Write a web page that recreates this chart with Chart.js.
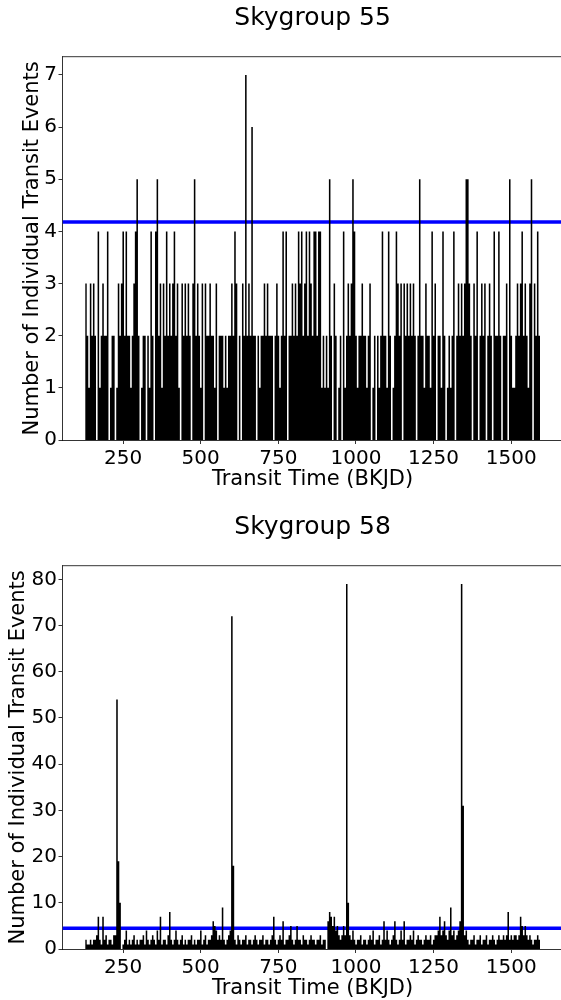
<!DOCTYPE html>
<html><head><meta charset="utf-8">
<script src="https://cdn.jsdelivr.net/npm/chart.js@4.4.0/dist/chart.umd.min.js"></script>
<style>
html,body{margin:0;padding:0;background:#fff;overflow:hidden;width:561px;height:1000px;position:relative;}
.wrap{position:absolute;left:0;width:575px;height:509px;}
#w1{top:0}
#w2{top:509px}
canvas{display:block}
</style></head><body>
<div class="wrap" id="w1"><canvas id="c1" width="575" height="509"></canvas></div>
<div class="wrap" id="w2"><canvas id="c2" width="575" height="509"></canvas></div>
<script>
const titles = ["Skygroup 55", "Skygroup 58"];
const xLabel = "Transit Time (BKJD)";
const yLabel = "Number of Individual Transit Events";
const xTicks = [250, 500, 750, 1000, 1250, 1500];
const yTicks55 = [0, 1, 2, 3, 4, 5, 6, 7];
const yTicks58 = [0, 10, 20, 30, 40, 50, 60, 70, 80];
const binStart = 128;
const binWidth = 5;
const threshold55 = 4.18;
const threshold58 = 4.48;

const counts55 = [
3,2,1,3,2,3,2,0,4,1,
2,3,2,2,4,0,1,2,2,0,
1,3,2,3,4,2,4,2,2,1,
2,3,4,5,2,0,1,2,2,0,
2,1,4,2,0,4,5,2,3,1,
3,2,4,2,3,2,3,4,2,3,
1,0,3,2,3,2,3,2,0,3,
5,2,3,2,1,3,0,3,2,2,
3,2,2,1,3,0,2,2,2,1,
2,1,2,2,3,2,4,3,0,2,
0,3,2,7,2,3,2,6,2,2,
0,2,1,2,2,3,2,3,2,2,
2,0,2,3,2,1,2,4,2,4,
0,2,2,3,2,3,2,4,3,4,
2,3,4,2,4,3,2,4,4,2,
4,4,1,2,1,2,1,5,2,0,
3,2,0,1,2,0,4,1,2,3,
2,3,5,4,2,1,2,2,3,2,
2,1,2,3,0,1,2,0,2,1,
2,4,2,2,1,4,2,0,1,2,
4,3,2,3,0,3,2,3,2,3,
2,3,2,0,2,5,2,2,1,3,
2,2,1,4,2,3,0,2,2,1,
4,2,0,1,2,1,2,4,0,2,
3,2,3,2,3,5,5,3,2,0,
3,2,4,0,2,3,2,3,0,2,
3,2,0,4,2,2,4,2,0,2,
2,3,0,5,2,1,1,2,3,2,
3,4,2,3,2,1,3,5,0,3,
2,4,2
];

const counts58 = [
2,1,1,2,1,2,2,3,7,2,
1,7,2,3,1,2,2,1,3,3,
54,19,10,0,1,2,4,1,2,1,
2,3,1,2,1,2,2,3,1,4,
2,1,2,3,2,1,4,2,7,1,
2,2,1,3,8,2,1,2,4,2,
1,2,3,1,2,1,2,2,3,1,
2,1,2,2,4,1,2,3,1,2,
2,3,6,5,4,2,3,2,9,2,
1,2,3,4,72,18,2,1,3,2,
1,2,2,3,1,2,2,1,2,3,
2,1,2,2,3,1,2,2,1,2,
3,7,2,1,2,3,2,6,1,2,
2,3,5,2,1,2,5,2,2,1,
3,2,2,1,2,3,2,2,1,2,
2,3,1,2,2,0,6,8,7,5,
7,4,5,3,2,3,5,3,79,10,
3,2,4,2,1,2,2,3,1,2,
2,1,2,3,2,4,1,2,2,3,
1,2,6,2,4,2,1,2,3,6,
2,1,2,4,2,6,1,2,2,3,
2,4,1,2,3,2,2,1,2,3,
2,2,3,1,2,3,3,4,7,3,
4,6,3,2,4,9,3,4,2,3,
4,6,79,31,3,4,2,1,2,2,
3,1,2,2,3,1,2,2,3,1,
2,2,3,2,1,2,3,2,2,3,
2,3,8,2,3,2,3,3,2,3,
7,5,3,5,3,2,3,2,1,2,
2,3,2
];

const FONT = "'DejaVu Sans', sans-serif";

const frame = {
  id: 'frame',
  afterDatasetsDraw(chart) {
    const a = chart.chartArea, ctx = chart.ctx;
    ctx.save();
    ctx.strokeStyle = '#000';
    ctx.lineWidth = 0.8;
    ctx.beginPath();
    ctx.moveTo(a.left, a.top);
    ctx.lineTo(a.right, a.top);
    ctx.lineTo(a.right, a.bottom);
    ctx.stroke();
    ctx.restore();
  }
};

function histPoints(counts) {
  const pts = counts.map((v, i) => ({ x: binStart + i * binWidth, y: v }));
  pts.push({ x: binStart + counts.length * binWidth, y: counts[counts.length - 1] });
  return pts;
}

function makeChart(id, title, counts, thr, yTicks, yMax, yTitlePad) {
  return new Chart(document.getElementById(id), {
    type: 'line',
    data: {
      datasets: [
        {
          data: histPoints(counts),
          stepped: true,
          fill: 'origin',
          backgroundColor: '#000',
          borderColor: 'rgba(0,0,0,0)',
          borderWidth: 0.01,
          pointRadius: 0,
          order: 1
        },
        {
          data: [{ x: 55, y: thr }, { x: 1666, y: thr }],
          borderColor: '#0000ff',
          borderWidth: 3.5,
          pointRadius: 0,
          fill: false,
          order: 2
        }
      ]
    },
    options: {
      responsive: false,
      animation: false,
      devicePixelRatio: 1,
      layout: { padding: { left: 0, right: 12.3, top: 0, bottom: 0 } },
      plugins: {
        legend: { display: false },
        tooltip: { enabled: false },
        title: {
          display: true,
          text: title,
          fullSize: false,
          color: '#000',
          font: { family: FONT, size: 25, weight: 'normal' },
          padding: { top: 3.5, bottom: 23.2 }
        }
      },
      scales: {
        x: {
          type: 'linear',
          min: 55,
          max: 1666,
          afterBuildTicks: s => { s.ticks = xTicks.map(v => ({ value: v })); },
          afterFit: s => { s.height = 69; },
          ticks: { color: '#000', font: { family: FONT, size: 20 }, padding: 2.5, maxRotation: 0, autoSkip: false, callback: v => String(v) },
          grid: { drawOnChartArea: false, drawTicks: true, tickLength: 4, color: '#000', lineWidth: 0.8 },
          border: { display: true, color: '#000', width: 0.8 },
          title: { display: true, text: xLabel, color: '#000', font: { family: FONT, size: 21 }, padding: { top: 0, bottom: 16.4 } }
        },
        y: {
          type: 'linear',
          min: 0,
          max: yMax,
          afterBuildTicks: s => { s.ticks = yTicks.map(v => ({ value: v })); },
          afterFit: s => { s.width = 62.5; },
          ticks: { color: '#000', font: { family: FONT, size: 20 }, padding: 1.5, autoSkip: false, callback: v => String(v) },
          grid: { drawOnChartArea: false, drawTicks: true, tickLength: 4, color: '#000', lineWidth: 0.8 },
          border: { display: true, color: '#000', width: 0.8 },
          title: { display: true, text: yLabel, color: '#000', font: { family: FONT, size: 21 }, padding: { top: yTitlePad, bottom: 0 } }
        }
      }
    },
    plugins: [frame]
  });
}

makeChart('c1', titles[0], counts55, threshold55, yTicks55, 7.35, 20.4);
makeChart('c2', titles[1], counts58, threshold58, yTicks58, 82.95, 6.4);
</script>
</body></html>
